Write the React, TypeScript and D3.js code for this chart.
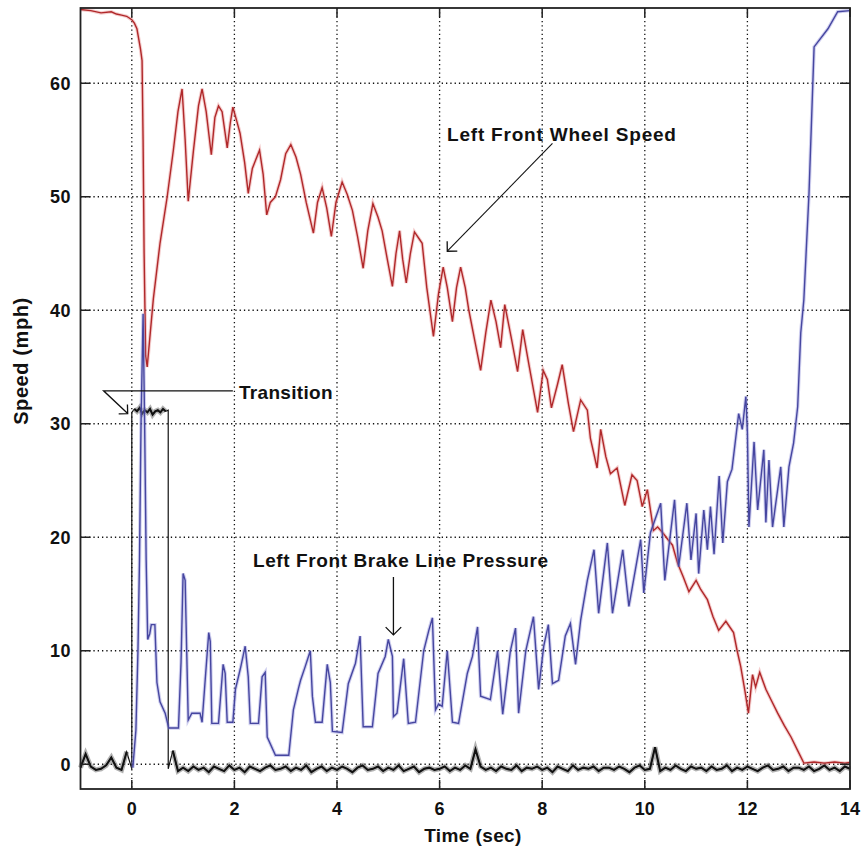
import React from "react";
import * as d3 from "d3";

// ---------- data ----------
const xTicks = [0, 2, 4, 6, 8, 10, 12, 14];
const yTicks = [0, 10, 20, 30, 40, 50, 60];

// Left front wheel speed [time (s), mph]
const wheelSpeed: [number, number][] = [
  [-1, 66.5], [-0.8, 66.4], [-0.6, 66.2], [-0.4, 66.3], [-0.3, 66.1], [-0.2, 66.0], [-0.1, 65.9], [0, 65.6],
  [0.05, 65.3], [0.1, 64.8], [0.17, 63], [0.2, 62], [0.22, 55], [0.24, 45], [0.27, 36], [0.3, 35],
  [0.35, 37.5], [0.42, 41], [0.55, 45.9], [0.69, 50], [0.81, 54.1], [0.9, 57.5], [0.98, 59.5], [1.04, 55],
  [1.1, 49.6], [1.2, 54], [1.3, 58], [1.37, 59.5], [1.45, 57.5], [1.55, 53.7], [1.62, 57], [1.69, 58],
  [1.76, 57.5], [1.86, 54.3], [1.92, 56.5], [1.97, 57.9], [2.05, 56.6], [2.11, 55.6], [2.2, 53], [2.27, 50.3],
  [2.35, 52.5], [2.49, 54.1], [2.56, 52], [2.63, 48.4], [2.7, 49.5], [2.8, 50], [2.9, 51.5], [3.0, 53.8],
  [3.1, 54.6], [3.2, 53.5], [3.29, 52], [3.4, 49.5], [3.54, 46.8], [3.62, 49.5], [3.71, 50.8], [3.8, 49],
  [3.89, 46.5], [3.98, 49.5], [4.1, 51.3], [4.2, 50.2], [4.3, 48.8], [4.4, 46.5], [4.51, 43.7], [4.6, 47],
  [4.7, 49.4], [4.8, 48.2], [4.88, 47], [4.98, 44.5], [5.08, 42.1], [5.15, 45], [5.22, 47], [5.28, 44.5],
  [5.35, 42.4], [5.43, 45], [5.51, 46.9], [5.6, 46.3], [5.66, 45.9], [5.75, 42], [5.88, 37.7], [5.98, 41.5],
  [6.07, 43.8], [6.15, 42], [6.25, 39], [6.33, 42], [6.41, 43.8], [6.5, 42], [6.57, 40], [6.7, 37],
  [6.8, 34.7], [6.9, 38], [7.0, 40.9], [7.1, 39], [7.19, 36.7], [7.27, 40.5], [7.4, 37.5], [7.52, 34.6],
  [7.62, 38.3], [7.75, 35], [7.91, 31], [8.02, 34.7], [8.1, 33.9], [8.18, 31.4], [8.3, 33.5], [8.39, 35.2],
  [8.51, 31.8], [8.61, 29.3], [8.75, 32.1], [8.88, 31.2], [8.94, 28.7], [9.07, 26.1], [9.14, 29.5], [9.24, 27.1],
  [9.33, 25.6], [9.46, 26.1], [9.61, 22.8], [9.75, 25.5], [9.85, 25], [9.95, 22.7], [10.05, 24.2], [10.17, 20.6],
  [10.25, 20.9], [10.35, 20.4], [10.45, 19.8], [10.54, 19.3], [10.64, 17.7], [10.75, 16.5], [10.86, 15.2], [11.0, 16.2],
  [11.09, 15.4], [11.22, 14.5], [11.33, 13], [11.44, 11.8], [11.58, 12.6], [11.73, 11.6], [11.8, 10], [11.87, 8.6],
  [11.95, 6.5], [12.02, 4.5], [12.1, 7.9], [12.16, 6.8], [12.24, 8.1], [12.36, 6.6], [12.47, 5.6], [12.59, 4.5],
  [12.72, 3.4], [12.85, 2.4], [12.98, 1.2], [13.1, 0.1], [13.3, 0.2], [13.5, 0.1], [13.7, 0.2], [13.9, 0.1], [14, 0.15],
];

// Left front brake line pressure [time (s), scaled value]
const brakePressure: [number, number][] = [
  [0.02, -0.3], [0.08, 3], [0.12, 10], [0.15, 18], [0.18, 30], [0.22, 39.7], [0.25, 30], [0.28, 18],
  [0.31, 11], [0.35, 11.5], [0.38, 12.3], [0.45, 12.3], [0.49, 7.2], [0.55, 5.5], [0.65, 4.5], [0.72, 3.2],
  [0.91, 3.2], [0.96, 9], [1.0, 16.8], [1.04, 16.2], [1.07, 10], [1.1, 3.9], [1.17, 4.5], [1.33, 4.5],
  [1.37, 3.7], [1.44, 8], [1.5, 11.6], [1.53, 10.8], [1.56, 3.6], [1.69, 3.6], [1.78, 8.8], [1.82, 8],
  [1.86, 3.7], [1.97, 3.7], [2.02, 6.6], [2.12, 8.5], [2.21, 10.4], [2.27, 7.7], [2.31, 3.6], [2.47, 3.6],
  [2.54, 7.7], [2.6, 8.1], [2.64, 2.4], [2.8, 0.8], [3.06, 0.8], [3.15, 4.8], [3.25, 6.7], [3.29, 7.4],
  [3.38, 8.6], [3.48, 10], [3.52, 6], [3.58, 3.7], [3.71, 3.7], [3.81, 8.8], [3.87, 7.2], [3.91, 2.9],
  [4.1, 2.8], [4.22, 7.1], [4.36, 8.9], [4.45, 11.3], [4.51, 3.3], [4.69, 3.3], [4.8, 8], [4.94, 9.5],
  [5.0, 11], [5.08, 9.5], [5.1, 4.2], [5.17, 4.5], [5.3, 9.3], [5.39, 3.6], [5.53, 3.7], [5.69, 10],
  [5.79, 11.8], [5.86, 12.9], [5.92, 4.8], [5.98, 5.3], [6.05, 5.1], [6.15, 10], [6.25, 3.7], [6.37, 3.6],
  [6.54, 8], [6.64, 9.5], [6.74, 12.1], [6.8, 6], [6.99, 5.7], [7.13, 10], [7.23, 4.4], [7.38, 10],
  [7.48, 12], [7.54, 4.5], [7.68, 10], [7.83, 13], [7.93, 6.6], [8.03, 10.4], [8.12, 12.3], [8.2, 7.1],
  [8.32, 7.4], [8.45, 11.3], [8.55, 12.4], [8.65, 8.8], [8.75, 12.7], [8.88, 16.2], [9.01, 18.9], [9.1, 13.3],
  [9.27, 19.5], [9.37, 13.3], [9.57, 18.9], [9.69, 13.9], [9.92, 19.8], [9.98, 15.1], [10.11, 20.4], [10.31, 23],
  [10.39, 16.2], [10.58, 23.3], [10.66, 17.4], [10.82, 23], [10.9, 18], [11.0, 22.1], [11.05, 16.8], [11.15, 22.4],
  [11.22, 18.9], [11.28, 22.7], [11.35, 18.5], [11.45, 25.4], [11.52, 19.5], [11.61, 24.9], [11.7, 26], [11.83, 30.9],
  [11.9, 29.5], [11.97, 32.4], [12.0, 29.2], [12.03, 20.9], [12.13, 28.4], [12.2, 22.4], [12.32, 27.7], [12.36, 21.3],
  [12.42, 26.8], [12.49, 20.9], [12.65, 26.2], [12.71, 20.9], [12.81, 26.2], [12.9, 28.3], [12.98, 31.5], [13.04, 38],
  [13.1, 40.9], [13.2, 50.2], [13.3, 63.2], [13.57, 64.8], [13.76, 66.3], [14, 66.4],
];

// Transition signal: baseline samples every 0.1 s from -1 to 14
const transitionStart = -1;
const transitionStep = 0.1;
const transitionBaseline = [
  -0.3, 0.9, -0.2, -0.5, -0.4, -0.1, 0.6, -0.3, -0.5, 1.1,
  -0.4, -0.4, -0.4, -0.4, -0.4, -0.4, -0.4, -0.4, 1.2, -0.6,
  -0.3, -0.6, -0.2, -0.5, -0.3, -0.7, -0.2, -0.4, -0.6, -0.1,
  -0.5, -0.3, -0.7, -0.2, -0.4, -0.6, -0.3, -0.1, -0.5, -0.4,
  -0.2, -0.6, -0.3, -0.5, -0.1, -0.7, -0.4, -0.2, -0.6, -0.3,
  -0.5, -0.2, -0.4, -0.7, -0.3, -0.1, -0.5, -0.4, -0.2, -0.6,
  -0.3, -0.5, -0.1, -0.6, -0.4, -0.2, -0.7, -0.4, -0.3, -0.5,
  -0.4, -0.2, -0.6, -0.3, -0.5, -0.1, -0.4, 1.3, -0.2, -0.5,
  -0.3, -0.6, -0.2, -0.4, -0.5, -0.1, -0.6, -0.3, -0.4, -0.2,
  -0.5, -0.3, -0.7, -0.2, -0.4, -0.6, -0.1, -0.5, -0.3, -0.4,
  -0.2, -0.6, -0.3, -0.3, -0.5, -0.2, -0.4, -0.7, -0.3, -0.1,
  -0.5, -0.4, 1.5, -0.6, -0.3, -0.5, -0.1, -0.4, -0.6, -0.2,
  -0.4, -0.3, -0.6, -0.2, -0.5, -0.4, -0.1, -0.6, -0.3, -0.5,
  -0.2, -0.4, -0.6, -0.3, -0.1, -0.5, -0.4, -0.2, -0.6, -0.3,
  -0.3, -0.5, -0.2, -0.6, -0.4, -0.1, -0.5, -0.3, -0.6, -0.2,
  -0.4,
];
const transitionOn = 0;
const transitionOff = 0.71;
const transitionPlateau = [31.0, 31.3, 31.1, 31.4, 30.9, 31.2, 31.0, 31.3, 30.8, 31.1, 31.2, 31.0, 31.3, 31.1, 31.2];

export default function App() {
  const W = 863, H = 848;
  const left = 80.5, right = 850, top = 8, bottom = 789;
  const x = d3.scaleLinear().domain([-1, 14]).range([left, right]);
  const y = d3.scaleLinear().domain([-2.18, 66.63]).range([bottom, top]);
  const line = d3.line<[number, number]>().x((d) => x(d[0])).y((d) => y(d[1]));

  // build transition series as three horizontal runs joined by two steps
  const pre: [number, number][] = [];
  const post: [number, number][] = [];
  transitionBaseline.forEach((v, i) => {
    const t = transitionStart + i * transitionStep;
    if (t < transitionOn - 1e-9) pre.push([t, v]);
    else if (t > transitionOff + 0.02) post.push([t, v]);
  });
  pre.push([transitionOn, -0.4]);
  post.unshift([transitionOff, -0.4]);
  const pStep = (transitionOff - transitionOn) / (transitionPlateau.length - 1);
  const plateau: [number, number][] = transitionPlateau.map((v, i) => [transitionOn + i * pStep, v]);
  const full = [...pre, ...plateau, ...post];

  const font = "'Liberation Sans', Arial, Helvetica, sans-serif";
  const arrowHead = (tx: number, ty: number, ang: number, len = 10) => {
    const a1 = ang + Math.PI / 4, a2 = ang - Math.PI / 4;
    return `M${tx + len * Math.cos(a1)},${ty + len * Math.sin(a1)}L${tx},${ty}L${tx + len * Math.cos(a2)},${ty + len * Math.sin(a2)}`;
  };

  const grid = { stroke: "#111", strokeWidth: 1.3, strokeDasharray: "1.3,3" };

  const wsTip = [6.15, 45.2], wsTail = [8.2, 54.7];
  const bpTip = [5.1, 11.4], bpTail = [5.1, 16.5];
  const trTip = [-0.08, 30.9], trElbow = [-0.55, 32.9], trEnd = [1.97, 32.9];

  const wsTipP = [x(wsTip[0]), y(wsTip[1])], wsTailP = [x(wsTail[0]), y(wsTail[1])];
  const wsAng = Math.atan2(wsTailP[1] - wsTipP[1], wsTailP[0] - wsTipP[0]);
  const trTipP = [x(trTip[0]), y(trTip[1])], trElbowP = [x(trElbow[0]), y(trElbow[1])];
  const trAng = Math.atan2(trElbowP[1] - trTipP[1], trElbowP[0] - trTipP[0]);

  return (
    <svg width={W} height={H} style={{ position: "absolute", left: 0, top: 0, background: "#fff" }} fontFamily={font}>
      <rect x={0} y={0} width={W} height={H} fill="#fff" />
      {xTicks.filter((t) => t < 14).map((t) => (
        <line key={"gx" + t} x1={x(t)} x2={x(t)} y1={top} y2={bottom} {...grid} />
      ))}
      {yTicks.map((t) => (
        <line key={"gy" + t} x1={left} x2={right} y1={y(t)} y2={y(t)} {...grid} />
      ))}

      {/* transition (black) */}
      <path d={line(full) || ""} fill="none" stroke="#111" strokeWidth={1.2} />
      {[pre.slice(0, -1), plateau.slice(1, -1), post.slice(1)].map((seg, i) => (
        <g key={"tr" + i}>
          <path d={line(seg) || ""} fill="none" stroke="#666" strokeOpacity={0.5} strokeWidth={5} />
          <path d={line(seg) || ""} fill="none" stroke="#111" strokeWidth={2} />
        </g>
      ))}

      {/* wheel speed (red) */}
      <path d={line(wheelSpeed) || ""} fill="none" stroke="#e07070" strokeOpacity={0.35} strokeWidth={3.5} />
      <path d={line(wheelSpeed) || ""} fill="none" stroke="#b0282a" strokeWidth={1.4} />

      {/* brake pressure (blue) */}
      <path d={line(brakePressure) || ""} fill="none" stroke="#8a8ad6" strokeOpacity={0.4} strokeWidth={3.5} />
      <path d={line(brakePressure) || ""} fill="none" stroke="#4646a0" strokeWidth={1.4} />

      {/* frame */}
      <rect x={left} y={top} width={right - left} height={bottom - top} fill="none" stroke="#222" strokeWidth={1.8} />
      {xTicks.map((t) => (
        <g key={"tx" + t}>
          <line x1={x(t)} x2={x(t)} y1={bottom} y2={bottom - 9} stroke="#222" strokeWidth={1.5} />
          <line x1={x(t)} x2={x(t)} y1={top} y2={top + 9} stroke="#222" strokeWidth={1.5} />
          <text x={x(t)} y={815} textAnchor="middle" fontSize={18} fontWeight="bold" fill="#111">{t}</text>
        </g>
      ))}
      {yTicks.map((t) => (
        <g key={"ty" + t}>
          <line x1={left} x2={left + 10} y1={y(t)} y2={y(t)} stroke="#222" strokeWidth={1.5} />
          <line x1={right} x2={right - 10} y1={y(t)} y2={y(t)} stroke="#222" strokeWidth={1.5} />
          <text x={71} y={y(t) + 6.5} textAnchor="end" fontSize={18} fontWeight="bold" fill="#111" letterSpacing={0.5}>{t}</text>
        </g>
      ))}

      <text x={473} y={842} textAnchor="middle" fontSize={19} fontWeight="bold" fill="#111" letterSpacing={0.4}>Time (sec)</text>
      <text transform={`translate(28,361) rotate(-90)`} textAnchor="middle" fontSize={20} fontWeight="bold" fill="#111" letterSpacing={0.6}>Speed (mph)</text>

      <text x={447} y={141} fontSize={19} fontWeight="bold" fill="#111" letterSpacing={0.8}>Left Front Wheel Speed</text>
      <line x1={wsTailP[0]} y1={wsTailP[1]} x2={wsTipP[0]} y2={wsTipP[1]} stroke="#111" strokeWidth={1.1} />
      <path d={arrowHead(wsTipP[0], wsTipP[1], wsAng)} fill="none" stroke="#111" strokeWidth={1.3} />

      <text x={253} y={567} fontSize={19} fontWeight="bold" fill="#111" letterSpacing={0.6}>Left Front Brake Line Pressure</text>
      <line x1={x(bpTail[0])} y1={y(bpTail[1])} x2={x(bpTip[0])} y2={y(bpTip[1])} stroke="#111" strokeWidth={1.3} />
      <path d={arrowHead(x(bpTip[0]), y(bpTip[1]), -Math.PI / 2, 11)} fill="none" stroke="#111" strokeWidth={1.3} />

      <text x={239} y={399} fontSize={19} fontWeight="bold" fill="#111" letterSpacing={0.3}>Transition</text>
      <polyline points={`${x(trEnd[0])},${y(trEnd[1])} ${trElbowP[0]},${trElbowP[1]} ${trTipP[0]},${trTipP[1]}`} fill="none" stroke="#111" strokeWidth={1.3} />
      <path d={arrowHead(trTipP[0], trTipP[1], trAng, 9)} fill="none" stroke="#111" strokeWidth={1.3} />
    </svg>
  );
}
